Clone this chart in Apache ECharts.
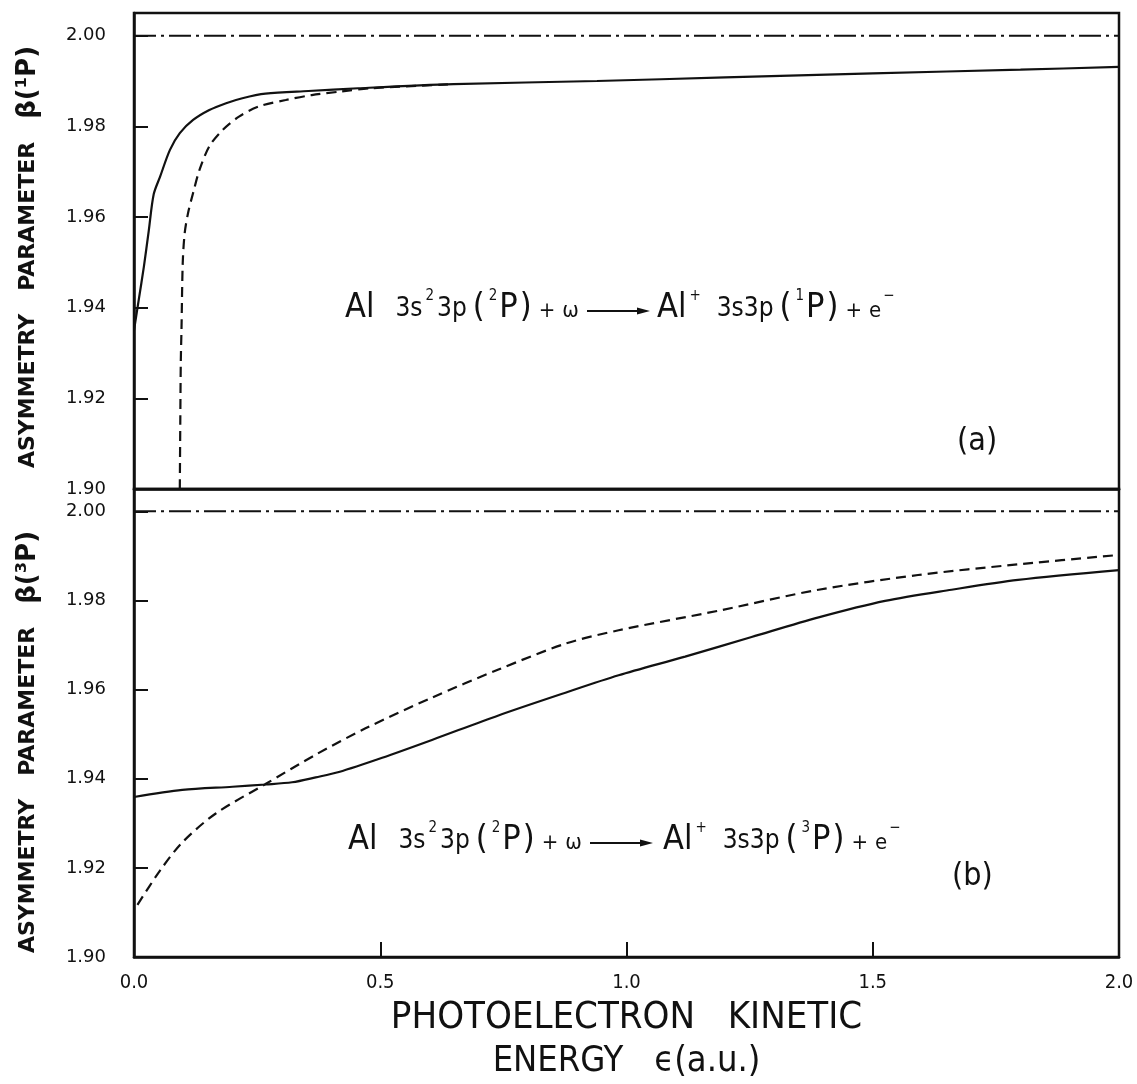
<!DOCTYPE html>
<html>
<head>
<meta charset="utf-8">
<script src="https://cdn.jsdelivr.net/npm/echarts@6/dist/echarts.min.js"></script>
<style>
html,body{margin:0;padding:0;background:#fff;}
#chart{width:1137px;height:1084px;}
</style>
</head>
<body>
<div id="chart"></div>
<script>
// ---- Data ----
// Panel (a): beta(1P)
var topSolidX = [0, 0.01, 0.02, 0.03, 0.04, 0.053, 0.073, 0.093, 0.12, 0.153, 0.187, 0.22, 0.267, 0.354, 0.455, 0.649, 0.94, 1.2, 1.5, 1.8, 2.0];
var topSolidY = [1.935, 1.942, 1.949, 1.957, 1.9650, 1.9689, 1.9748, 1.9785, 1.9814, 1.9836, 1.9851, 1.9862, 1.9872, 1.9878, 1.9884, 1.9893, 1.9900, 1.9908, 1.9917, 1.9925, 1.9931];
var topDashX = [0.093, 0.094, 0.095, 0.0965, 0.099, 0.103, 0.11, 0.12, 0.133, 0.153, 0.18, 0.214, 0.254, 0.308, 0.361, 0.421, 0.48, 0.649];
var topDashY = [1.900, 1.915, 1.928, 1.9356, 1.950, 1.9565, 1.961, 1.9653, 1.9704, 1.9756, 1.9792, 1.9822, 1.9844, 1.9858, 1.9869, 1.9877, 1.9884, 1.9893];
// Panel (b): beta(3P)
var botSolidX = [0, 0.098, 0.2, 0.267, 0.321, 0.369, 0.416, 0.504, 0.605, 0.74, 0.876, 0.984, 1.119, 1.254, 1.39, 1.525, 1.66, 1.795, 2.0];
var botSolidY = [1.9359, 1.9375, 1.9382, 1.9387, 1.9392, 1.9403, 1.9415, 1.9447, 1.9487, 1.9542, 1.9593, 1.9632, 1.9674, 1.9718, 1.9762, 1.9799, 1.9824, 1.9846, 1.9868];
var botDashX = [0.007, 0.051, 0.098, 0.166, 0.267, 0.369, 0.47, 0.605, 0.74, 0.876, 0.984, 1.187, 1.39, 1.592, 1.795, 2.0];
var botDashY = [1.9117, 1.9191, 1.9257, 1.9322, 1.9388, 1.9454, 1.9513, 1.9582, 1.9645, 1.9703, 1.9733, 1.9777, 1.9824, 1.9857, 1.9881, 1.9902];
// Limit beta = 2
var limitX = [0, 2];
var limitY = [2.0, 2.0];
// Axis ticks
var xTicks = [0.0, 0.5, 1.0, 1.5, 2.0];
var yTicks = [1.90, 1.92, 1.94, 1.96, 1.98, 2.00];

function pairs(xs, ys){ return xs.map(function(x,i){ return [x, ys[i]]; }); }

var chart = echarts.init(document.getElementById('chart'), null, {renderer:'canvas'});

var BLACK = '#111';
var COND = "'DejaVu Sans Condensed', 'Liberation Sans Narrow', sans-serif";
var xMin = xTicks[0], xMax = xTicks[xTicks.length-1], xInt = xTicks[1]-xTicks[0];
var yMin = yTicks[0], yInt = 0.02, yMax = 2.005;

function yLabelFmt(v){
  for (var i=0;i<yTicks.length;i++){ if (Math.abs(v - yTicks[i]) < 1e-6) return yTicks[i].toFixed(2); }
  return '';
}

function yAxisCfg(idx){
  return {
    type:'value', gridIndex: idx, min: yMin, max: yMax, interval: yInt,
    axisLine:{show:true, lineStyle:{color:BLACK, width:2.5}},
    axisTick:{show:true, inside:true, length:14, lineStyle:{color:BLACK, width:2}},
    axisLabel:{show:true, margin:28, formatter: yLabelFmt, color:BLACK, fontSize:18, fontFamily:'DejaVu Sans'},
    splitLine:{show:false}
  };
}

var option = {
  backgroundColor:'#fff',
  animation:false,
  grid:[
    {left:134, right:18, top:13, height:476, show:true, borderColor:BLACK, borderWidth:2.5, backgroundColor:'transparent'},
    {left:134, right:18, top:489, height:477, show:true, borderColor:BLACK, borderWidth:2.5, backgroundColor:'transparent'}
  ],
  xAxis:[
    {type:'value', gridIndex:0, min:xMin, max:xMax, interval:xInt,
     axisLine:{show:true, lineStyle:{color:BLACK, width:2.5}}, axisTick:{show:false}, axisLabel:{show:false}, splitLine:{show:false}},
    {type:'value', gridIndex:1, min:xMin, max:xMax, interval:xInt,
     axisLine:{show:true, lineStyle:{color:BLACK, width:2.5}},
     axisTick:{show:true, inside:true, length:15, lineStyle:{color:BLACK, width:2}},
     axisLabel:{show:true, margin:16, color:BLACK, fontSize:20, fontFamily:COND,
       formatter:function(v){ return v.toFixed(1); }},
     splitLine:{show:false},
     name:'PHOTOELECTRON   KINETIC\n{e|ENERGY   ϵ(a.u.)}', nameLocation:'middle', nameGap:40,
     nameTextStyle:{color:BLACK, fontSize:38, lineHeight:43, fontFamily:COND, verticalAlign:'top',
       rich:{e:{fontSize:36, lineHeight:43, fontFamily:COND, color:BLACK}}}}
  ],
  yAxis:[ yAxisCfg(0), yAxisCfg(1) ],
  series:[
    {type:'line', xAxisIndex:0, yAxisIndex:0, data:pairs(limitX, limitY), symbol:'none', silent:true,
     lineStyle:{color:BLACK, width:2, type:[22,5,3,5]}},
    {type:'line', xAxisIndex:0, yAxisIndex:0, data:pairs(topSolidX, topSolidY), symbol:'none', smooth:0.3,
     lineStyle:{color:BLACK, width:2.2}},
    {type:'line', xAxisIndex:0, yAxisIndex:0, data:pairs(topDashX, topDashY), symbol:'none', smooth:0.3,
     lineStyle:{color:BLACK, width:2.2, type:[10,6]}},
    {type:'line', xAxisIndex:1, yAxisIndex:1, data:pairs(limitX, limitY), symbol:'none', silent:true,
     lineStyle:{color:BLACK, width:2, type:[22,5,3,5]}},
    {type:'line', xAxisIndex:1, yAxisIndex:1, data:pairs(botSolidX, botSolidY), symbol:'none', smooth:0.3,
     lineStyle:{color:BLACK, width:2.2}},
    {type:'line', xAxisIndex:1, yAxisIndex:1, data:pairs(botDashX, botDashY), symbol:'none', smooth:0.3,
     lineStyle:{color:BLACK, width:2.2, type:[10,6]}}
  ]
};

var FF = "'DejaVu Sans Condensed', 'DejaVu Sans', sans-serif";
function tok(size, pad, va){ return {fontSize:size, lineHeight:40, fontFamily:FF, fill:BLACK, verticalAlign:va||'bottom', padding:pad}; }
var rich = {
  al:  tok(34, [0,20,0,0]),
  al2: tok(34, [0,1,0,0]),
  big: tok(34, [0,0,0,0]),
  po:  tok(34, [0,2,0,5]),
  pc:  tok(34, [0,0,0,2]),
  mid: tok(26, [0,1,3,1]),
  mid2:tok(26, [0,1,3,14]),
  pl:  tok(22, [0,7,3,7]),
  sm:  tok(22, [0,0,3,0]),
  sup: tok(15, [4,2,0,2], 'top')
};
function leftPart(){ return '{al|Al}{mid|3s}{sup|2}{mid|3p}{po|(}{sup|2}{big|P}{pc|)}{pl|+}{sm|ω}'; }
function rightPart(state){ return '{al2|Al}{sup|+}{mid2|3s3p}{po|(}{sup|' + state + '}{big|P}{pc|)}{pl|+}{sm|e}{sup|−}'; }

function arrow(x0, x1, y){
  return {type:'group', children:[
    {type:'line', shape:{x1:x0, y1:y, x2:x1-10, y2:y}, style:{stroke:BLACK, lineWidth:2}},
    {type:'polygon', shape:{points:[[x1-13,y-3.5],[x1,y],[x1-13,y+3.5]]}, style:{fill:BLACK}}
  ]};
}

option.graphic = [
  // panel (a) reaction
  {type:'text', left:345, top:285, style:{text:leftPart(), rich:rich, fill:BLACK}},
  arrow(587, 650, 311),
  {type:'text', left:657, top:285, style:{text:rightPart('1'), rich:rich, fill:BLACK}},
  {type:'text', left:957, top:426, style:{text:'(a)', fontSize:32, fontFamily:COND, fill:BLACK}},
  // panel (b) reaction
  {type:'text', left:348, top:817, style:{text:leftPart(), rich:rich, fill:BLACK}},
  arrow(590, 653, 843),
  {type:'text', left:663, top:817, style:{text:rightPart('3'), rich:rich, fill:BLACK}},
  {type:'text', left:952, top:861, style:{text:'(b)', fontSize:32, fontFamily:COND, fill:BLACK}},
  // y-axis titles
  {type:'text', x:28, y:257, rotation:Math.PI/2, style:{text:'ASYMMETRY   PARAMETER   {b|β(¹P)}', fontSize:22, fontWeight:'bold', fontFamily:'DejaVu Sans', fill:BLACK, align:'center', verticalAlign:'middle', rich:{b:{fontSize:26, fontWeight:'bold', fontFamily:'DejaVu Sans', fill:BLACK}}}},
  {type:'text', x:28, y:742, rotation:Math.PI/2, style:{text:'ASYMMETRY   PARAMETER   {b|β(³P)}', fontSize:22, fontWeight:'bold', fontFamily:'DejaVu Sans', fill:BLACK, align:'center', verticalAlign:'middle', rich:{b:{fontSize:26, fontWeight:'bold', fontFamily:'DejaVu Sans', fill:BLACK}}}}
];

chart.setOption(option);
</script>
</body>
</html>
